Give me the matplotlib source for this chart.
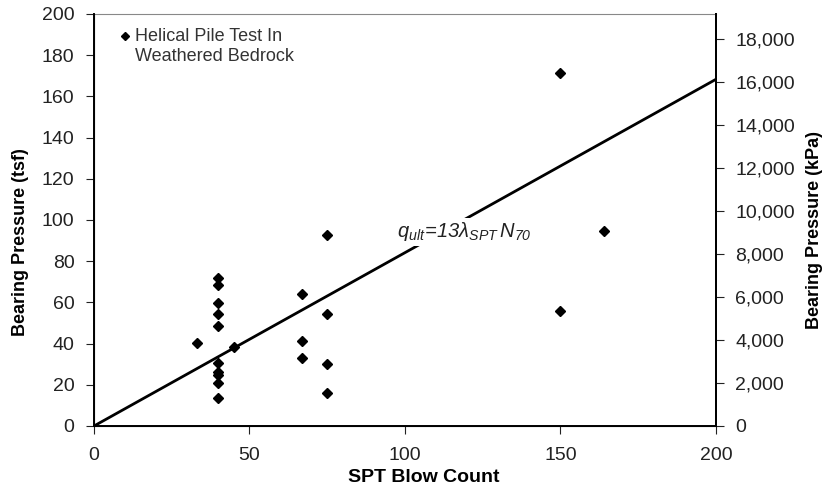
"""Bearing pressure vs SPT blow count for helical piles in weathered bedrock."""
import matplotlib
matplotlib.use("Agg")
import matplotlib.pyplot as plt  # noqa: E402
from matplotlib.ticker import FuncFormatter, MultipleLocator  # noqa: E402

plt.rcParams["font.family"] = ["Liberation Sans", "DejaVu Sans"]
plt.rcParams["mathtext.fontset"] = "custom"
plt.rcParams["mathtext.rm"] = "Liberation Sans:italic"
plt.rcParams["mathtext.it"] = "Liberation Sans:italic"

# load test results (SPT N, tsf)
spt_n = [40, 40, 40, 40, 40, 40, 40, 40, 40, 40,
         33, 45, 67, 67, 67, 75, 75, 75, 75, 150, 150, 164]
q_tsf = [71.7, 68.4, 59.9, 54.2, 48.4, 30.4, 26.0, 24.6, 21.0, 13.5,
         40.5, 38.5, 63.9, 41.1, 33.2, 92.7, 54.2, 29.9, 15.9, 171.5, 55.8, 94.6]

# design line q_ult = 13 * lambda_SPT * N70
fit_n = [0, 200]
fit_q = [0, 168.3]

TSF_TO_KPA = 95.76
TICK_COLOR = "#222222"

fig = plt.figure(figsize=(8.26, 4.91), dpi=100)
ax = fig.add_axes([0.1138, 0.1324, 0.7530, 0.8391])

ax.plot(fit_n, fit_q, color="black", lw=2.0, zorder=2)
ax.plot(spt_n, q_tsf, ls="none", marker="D", ms=5.3, color="black", zorder=3)

ax.text(119.0, 94.2, r"$q_{ult}\!=\!13\lambda_{SPT}\,N_{70}$", fontsize=14.5,
        ha="center", va="center", color="#222222", zorder=4,
        bbox=dict(facecolor="white", edgecolor="none", pad=2))

ax.set_xlim(0, 200)
ax.set_ylim(0, 200)
ax.xaxis.set_major_locator(MultipleLocator(50))
ax.yaxis.set_major_locator(MultipleLocator(20))
ax.tick_params(axis="both", direction="out", length=6, width=0.8,
               labelsize=14, colors=TICK_COLOR, pad=8)
ax.tick_params(axis="x", pad=9)
for side in ("left", "bottom", "right"):
    ax.spines[side].set_linewidth(1.4)
ax.spines["top"].set_linewidth(0.8)
ax.spines["top"].set_color("#888888")

ax.set_xlabel("SPT Blow Count", fontsize=14, fontweight="bold")
ax.xaxis.set_label_coords(0.53, -0.105)
ax.set_ylabel("Bearing Pressure (tsf)", fontsize=13, fontweight="bold")
ax.yaxis.set_label_coords(-0.104, 0.447)

# kPa scale on the right
ax2 = ax.twinx()
ax2.set_ylim(0, 200 * TSF_TO_KPA)
ax2.yaxis.set_major_locator(MultipleLocator(2000))
ax2.yaxis.set_major_formatter(FuncFormatter(lambda v, _: f"{v:,.0f}"))
ax2.tick_params(axis="y", direction="out", length=6, width=0.8,
                labelsize=14, colors=TICK_COLOR, pad=8)
ax2.spines["right"].set_linewidth(1.4)
ax2.spines["top"].set_visible(False)
ax2.set_ylabel("Bearing Pressure (kPa)", fontsize=13, fontweight="bold")
ax2.yaxis.set_label_coords(1.145, 0.476)

# legend key
ax.plot([0.0506], [0.9475], transform=ax.transAxes, ls="none", marker="D",
        ms=4.5, color="black", clip_on=False)
ax.text(0.066, 0.966, "Helical Pile Test In\nWeathered Bedrock", transform=ax.transAxes,
        ha="left", va="top", fontsize=13, color="#333333", linespacing=1.2)

fig.savefig("out.png", dpi=100)
